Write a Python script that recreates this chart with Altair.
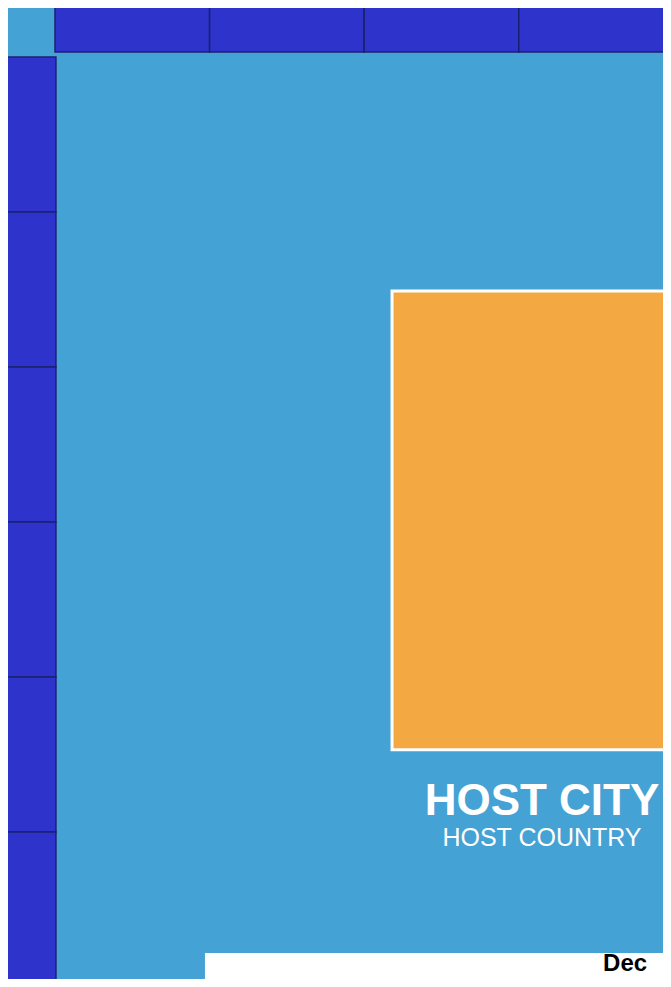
import altair as alt
import pandas as pd

# ---- data (grid units: one unit = one header cell) ----
top_columns = [0, 1, 2, 3, 4]          # header cells along the top
left_rows = [0, 1, 2, 3, 4, 5]         # header cells down the left side

highlight_col = [2.18, 4.17]           # orange host block (column span)
highlight_row = [1.51, 4.47]           # orange host block (row span)

city_label = "HOST CITY"
country_label = "HOST COUNTRY"
label_col = 3.15
city_row = 4.89
country_row = 5.09

box_col = [0.97, 5.38]
box_row = [5.78, 6.4]
box_text = "Dec"
box_text_col = 3.545
box_text_row = 5.895

# ---- layout constants ----
W, H = 655, 971
CELL_X, CELL_Y = 154.6, 155.0
ORIGIN_X, ORIGIN_Y = 47.0, 49.0

x_dom = [-ORIGIN_X / CELL_X, (W - ORIGIN_X) / CELL_X]
y_dom = [-ORIGIN_Y / CELL_Y, (H - ORIGIN_Y) / CELL_Y]

xs = alt.Scale(domain=x_dom, nice=False, zero=False)
ys = alt.Scale(domain=y_dom, nice=False, zero=False, reverse=True)

BG = "#44A2D5"
CELL = "#2E33CC"
EDGE = "#1B2070"
ORANGE = "#F4A842"

top_df = pd.DataFrame({"c0": top_columns, "c1": [c + 1 for c in top_columns],
                       "r0": [-0.355] * len(top_columns), "r1": [-0.032] * len(top_columns)})
left_df = pd.DataFrame({"r0": left_rows, "r1": [r + 1 for r in left_rows],
                        "c0": [-0.323] * len(left_rows), "c1": [0.006] * len(left_rows)})
hl_df = pd.DataFrame({"c0": [highlight_col[0]], "c1": [highlight_col[1]],
                      "r0": [highlight_row[0]], "r1": [highlight_row[1]]})
lab_df = pd.DataFrame({"c": [label_col, label_col], "r": [city_row, country_row],
                       "t": [city_label, country_label], "kind": ["city", "country"]})
box_df = pd.DataFrame({"c0": [box_col[0]], "c1": [box_col[1]],
                       "r0": [box_row[0]], "r1": [box_row[1]]})
btxt_df = pd.DataFrame({"c": [box_text_col], "r": [box_text_row], "t": [box_text]})


def rects(df, **style):
    return alt.Chart(df).mark_rect(**style).encode(
        x=alt.X("c0:Q", scale=xs, axis=None),
        x2="c1:Q",
        y=alt.Y("r0:Q", scale=ys, axis=None),
        y2="r1:Q",
    )


top = rects(top_df, color=CELL, stroke=EDGE, strokeWidth=1.5)
left = rects(left_df, color=CELL, stroke=EDGE, strokeWidth=1.5)
hl = rects(hl_df, color=ORANGE, stroke="white", strokeWidth=3)
box = rects(box_df, color="white")

city = alt.Chart(lab_df[lab_df.kind == "city"]).mark_text(
    font="Liberation Sans", fontWeight="bold", fontSize=44, color="white",
    align="center", baseline="alphabetic"
).encode(x=alt.X("c:Q", scale=xs, axis=None), y=alt.Y("r:Q", scale=ys, axis=None), text="t:N")

country = alt.Chart(lab_df[lab_df.kind == "country"]).mark_text(
    font="Liberation Sans", fontSize=25, color="white",
    align="center", baseline="alphabetic"
).encode(x=alt.X("c:Q", scale=xs, axis=None), y=alt.Y("r:Q", scale=ys, axis=None), text="t:N")

btxt = alt.Chart(btxt_df).mark_text(
    font="Liberation Sans", fontWeight="bold", fontSize=24, color="black",
    align="left", baseline="alphabetic"
).encode(x=alt.X("c:Q", scale=xs, axis=None), y=alt.Y("r:Q", scale=ys, axis=None), text="t:N")

chart = alt.layer(top, left, hl, city, country, box, btxt).properties(
    width=W, height=H, background=BG, padding=0,
    autosize=alt.AutoSizeParams(type="none"),
).configure_view(stroke=None)

chart.save("out.html", embed_options={"renderer": "svg", "actions": False})
